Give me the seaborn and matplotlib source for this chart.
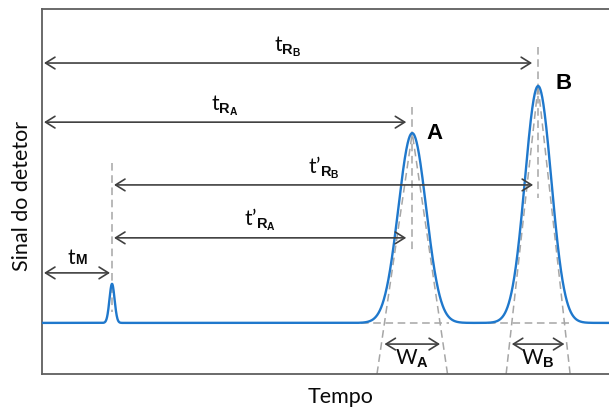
import numpy as np
import pandas as pd
import seaborn as sns
import matplotlib.pyplot as plt
from matplotlib.transforms import offset_copy

# ---- data ----
peak_labels = ["M", "A", "B"]
retention_times = [1.235, 6.53, 8.75]      # time units (axis spans 0..10)
peak_heights = [0.107, 0.52, 0.649]        # above baseline (axis spans 0..1)
peak_sigmas = [0.045, 0.245, 0.232]
baseline_level = 0.14
time_limits = [0.0, 10.0]

# ---- style ----
sns.set_theme(style="white")
plt.rcParams['font.family'] = ['Lato', 'DejaVu Sans']
plt.rcParams['mathtext.fontset'] = 'custom'
plt.rcParams['mathtext.rm'] = 'Lato'
plt.rcParams['mathtext.bf'] = 'Liberation Sans:bold'
plt.rcParams['mathtext.it'] = 'Lato:italic'
plt.rcParams['text.color'] = '#000000'

BLUE = '#1f78cc'
ARROW = '#404040'
DASH = '#a6a6a6'
SPINE = '#5f5f5f'
TXT = '#0a0a0a'
BOLD_FAMILY = ['Liberation Sans', 'DejaVu Sans']

fig = plt.figure(figsize=(6.09, 4.07), dpi=100)
ax = fig.add_axes([42 / 609, 33 / 407, 567 / 609, 365 / 407])

# chromatogram signal built from the peak table
t = np.linspace(time_limits[0], time_limits[1], 3000)
signal = np.full_like(t, baseline_level)
for tr, h, s in zip(retention_times, peak_heights, peak_sigmas):
    signal += h * np.exp(-0.5 * ((t - tr) / s) ** 2)
df = pd.DataFrame({"Tempo": t, "Sinal": signal})
sns.lineplot(data=df, x="Tempo", y="Sinal", ax=ax, color=BLUE, lw=1.7, zorder=3)

ax.set_xlim(*time_limits)
ax.set_ylim(0, 1)
ax.set_xticks([])
ax.set_yticks([])
for side in ["left", "bottom", "top"]:
    ax.spines[side].set_color(SPINE)
    ax.spines[side].set_linewidth(1.3)
ax.spines["right"].set_visible(False)

tM, tA, tB = retention_times
hM, hA, hB = peak_heights
sA, sB = peak_sigmas[1], peak_sigmas[2]

dash_kw = dict(color=DASH, lw=1.1, linestyle=(0, (5, 3)), zorder=2)

# vertical dashed markers at retention times
ax.plot([tM, tM], [0.578, baseline_level + 0.03], **dash_kw)
ax.plot([tA, tA], [0.731, 0.331], **dash_kw)
ax.plot([tB, tB], [0.896, 0.482], **dash_kw)

# tangent triangles and baseline segments
for tr, h, s in [(tA, hA, sA), (tB, hB, sB)]:
    top = baseline_level + h
    for sign in (-1, 1):
        x0 = tr + sign * 2 * s * top / h
        ax.plot([x0, tr], [0, top], **dash_kw)
    ax.plot([tr - 2 * s - 0.42, tr + 2 * s + 0.15], [baseline_level, baseline_level], **dash_kw)

arrow_kw = dict(arrowstyle='<->,head_length=0.45,head_width=0.28', color=ARROW,
                lw=1.2, shrinkA=0, shrinkB=0, mutation_scale=15)

def harrow(x1, x2, y, label, dy=0.012, fs=15):
    ax.annotate('', xy=(x2, y), xytext=(x1, y), arrowprops=arrow_kw, zorder=4)
    if label:
        ax.text((x1 + x2) / 2, y + dy, label, ha='center', va='bottom', fontsize=fs, color=TXT)

px = 10 / 567  # one pixel in time units
harrow(2 * px, tB - 6 * px, 0.852, r"$\mathrm{t}_{\mathbf{R}_{\mathbf{B}}}$")
harrow(2 * px, tA - 6 * px, 0.690, r"$\mathrm{t}_{\mathbf{R}_{\mathbf{A}}}$")
harrow(tM + 2 * px, tB - 5 * px, 0.518, r"$\mathrm{t’}_{\mathbf{R}_{\mathbf{B}}}$")
harrow(tM + 2 * px, tA - 6 * px, 0.373, r"$\mathrm{t’}_{\mathbf{R}_{\mathbf{A}}}$")
harrow(2 * px, tM - 2 * px, 0.277, None)
# t_M label: small M on the baseline of t
mid = (2 * px + tM - 2 * px) / 2
ax.text(mid, 0.277 + 0.012, "t", ha='right', va='baseline', fontsize=15, color=TXT,
        transform=offset_copy(ax.transData, fig=fig, x=-1.5, y=3, units='points'))
ax.text(mid, 0.277 + 0.012, "M", ha='left', va='baseline', fontsize=10, fontweight='bold',
        family=BOLD_FAMILY, color=TXT,
        transform=offset_copy(ax.transData, fig=fig, x=-1.5, y=3, units='points'))

# peak widths
for tr, s, lab in [(tA, sA, "A"), (tB, sB, "B")]:
    ax.annotate('', xy=(tr + 2 * s, 0.082), xytext=(tr - 2 * s, 0.082), arrowprops=arrow_kw, zorder=4)
    ax.text(tr, 0.010, r"$\mathrm{W}_{\mathbf{" + lab + "}}$", ha='center', va='bottom',
            fontsize=15, color=TXT)

# peak names
ax.text(tA + 0.40, baseline_level + hA, "A", fontsize=16, fontweight='bold', family=BOLD_FAMILY,
        ha='center', va='center', color='black')
ax.text(tB + 0.44, baseline_level + hB + 0.008, "B", fontsize=16, fontweight='bold', family=BOLD_FAMILY,
        ha='center', va='center', color='black')

ax.set_xlabel("Tempo", fontsize=15.5, color=TXT)
ax.set_ylabel("Sinal do detetor", fontsize=15.5, color=TXT)
ax.xaxis.label.set_va('center')
ax.yaxis.label.set_va('center')
ax.xaxis.set_label_coords(0.526, -0.063)
ax.yaxis.set_label_coords(-0.035, 0.488)

fig.savefig("out.png", dpi=100)
